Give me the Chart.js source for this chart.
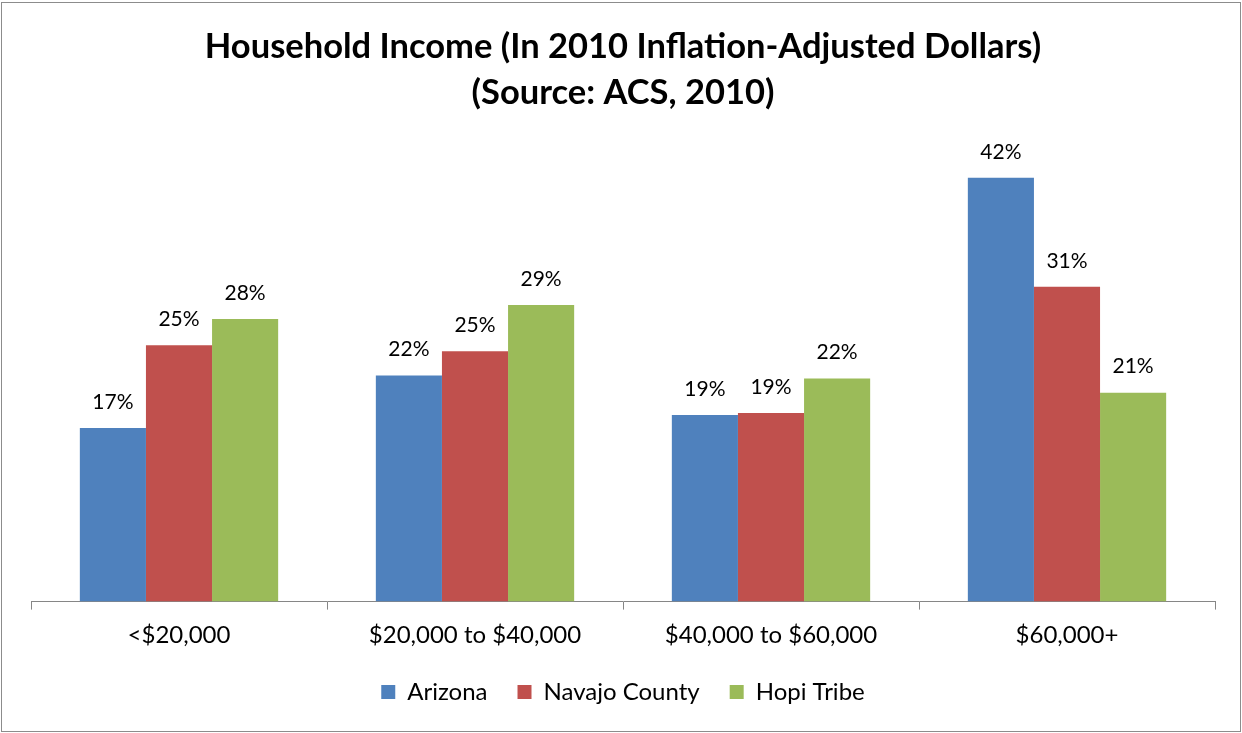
<!DOCTYPE html>
<html>
<head>
<meta charset="utf-8">
<script src="https://cdn.jsdelivr.net/npm/chart.js@4.4.0/dist/chart.umd.min.js"></script>
<style>
  html, body { margin: 0; padding: 0; background: #fff; }
  #wrap { width: 1242px; height: 733px; position: relative; }
</style>
</head>
<body>
<div id="wrap"><canvas id="incomeChart" width="1242" height="733"></canvas></div>
<script>
// Chart data (shares of households)
const categories = ['<$20,000', '$20,000 to $40,000', '$40,000 to $60,000', '$60,000+'];
const seriesNames = ['Arizona', 'Navajo County', 'Hopi Tribe'];
const arizona = [0.172, 0.224, 0.185, 0.420];
const navajoCounty = [0.254, 0.248, 0.187, 0.312];
const hopiTribe = [0.280, 0.294, 0.221, 0.207];
const titleLines = ['Household Income (In 2010 Inflation-Adjusted Dollars)', '(Source: ACS, 2010)'];

const colors = ['#4F81BD', '#C0504D', '#9BBB59'];
const FONT = 'Lato, "Liberation Sans", Arial, sans-serif';

/**
 * Percent labels above each bar
 */
const barLabels = {
  id: 'barLabels',
  afterDatasetsDraw(chart) {
    const ctx = chart.ctx;
    ctx.save();
    ctx.font = '21px ' + FONT;
    ctx.fillStyle = '#000';
    ctx.textAlign = 'center';
    ctx.textBaseline = 'middle';
    chart.data.datasets.forEach((ds, i) => {
      chart.getDatasetMeta(i).data.forEach((bar, j) => {
        ctx.fillText(Math.round(ds.data[j] * 100) + '%', bar.x, bar.y - 26);
      });
    });
    ctx.restore();
  }
};

/**
 * Thin grey frame round the whole chart
 */
const chartFrame = {
  id: 'chartFrame',
  beforeDraw(chart) {
    const ctx = chart.ctx;
    ctx.save();
    ctx.fillStyle = '#fff';
    ctx.fillRect(0, 0, chart.width, chart.height);
    ctx.strokeStyle = '#8c8c8c';
    ctx.lineWidth = 1;
    ctx.strokeRect(1.5, 2.5, chart.width - 3, chart.height - 4);
    ctx.restore();
  }
};

new Chart(document.getElementById('incomeChart'), {
  type: 'bar',
  data: {
    labels: categories,
    datasets: [arizona, navajoCounty, hopiTribe].map((vals, i) => ({
      label: seriesNames[i],
      data: vals,
      backgroundColor: colors[i],
      borderWidth: 0,
      barPercentage: 1,
      categoryPercentage: 0.67
    }))
  },
  options: {
    responsive: false,
    animation: false,
    layout: { padding: { left: 31, right: 27, top: 0, bottom: 19 } },
    plugins: {
      title: {
        display: true,
        text: titleLines,
        color: '#000',
        font: { family: FONT, size: 34.5, weight: 'bold', lineHeight: '46px' },
        padding: { top: 24, bottom: 31.5 }
      },
      legend: {
        position: 'bottom',
        labels: {
          color: '#000',
          font: { family: FONT, size: 24 },
          boxWidth: 14,
          boxHeight: 14,
          padding: 30
        }
      },
      tooltip: { enabled: false }
    },
    scales: {
      x: {
        // tick length + padding + one line of labels
        afterFit(scale) { scale.height = 48.4; },
        grid: {
          display: true,
          drawOnChartArea: false,
          drawTicks: true,
          tickLength: 8,
          color: '#868686'
        },
        border: { display: true, color: '#868686', width: 1 },
        ticks: {
          color: '#000',
          font: { family: FONT, size: 24, lineHeight: 1.2 },
          padding: 11.6,
          maxRotation: 0
        }
      },
      y: {
        display: false,
        min: 0,
        max: 0.45
      }
    }
  },
  plugins: [chartFrame, barLabels]
});
</script>
</body>
</html>
